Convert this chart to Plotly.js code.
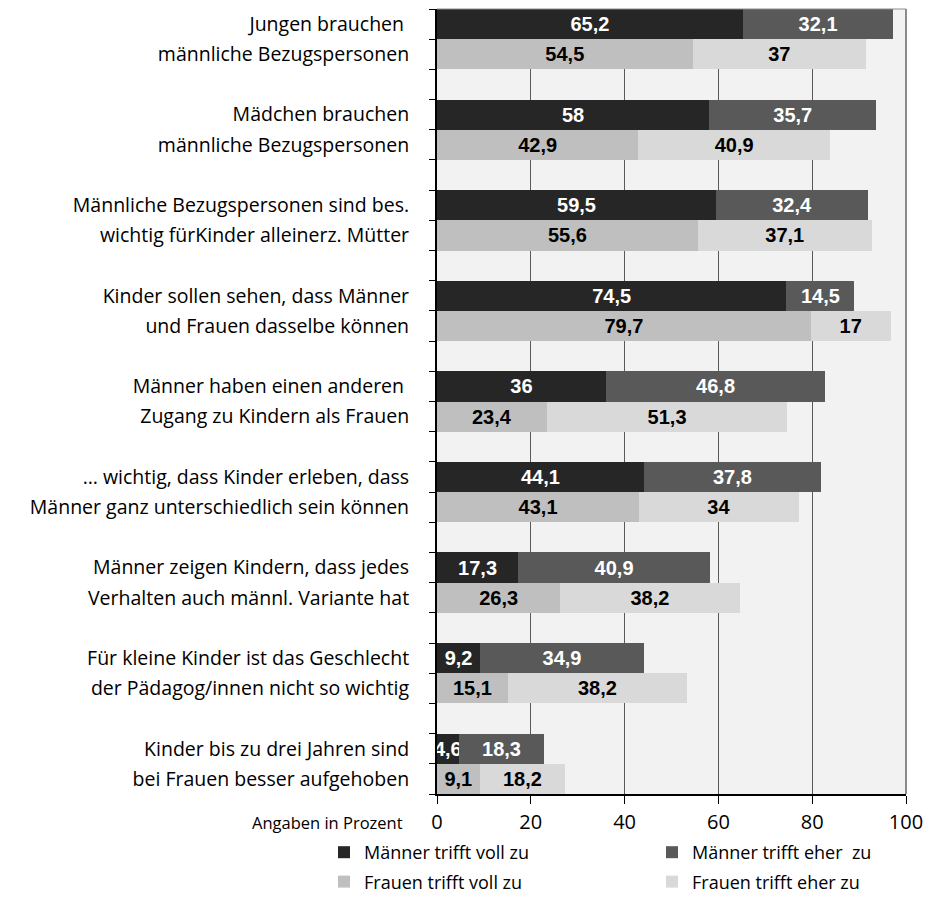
<!DOCTYPE html>
<html>
<head>
<meta charset="utf-8">
<script src="https://cdn.plot.ly/plotly-3.0.1.min.js"></script>
<style>html,body{margin:0;padding:0;background:#fff;}#chart{width:928px;height:910px;}</style>
</head>
<body>
<div id="chart"></div>
<script>
const labelLine1 = [
  "Jungen brauchen ",
  "Mädchen brauchen",
  "Männliche Bezugspersonen sind bes.",
  "Kinder sollen sehen, dass Männer",
  "Männer haben einen anderen ",
  "… wichtig, dass Kinder erleben, dass",
  "Männer zeigen Kindern, dass jedes",
  "Für kleine Kinder ist das Geschlecht",
  "Kinder bis zu drei Jahren sind"
];
const labelLine2 = [
  "männliche Bezugspersonen",
  "männliche Bezugspersonen",
  "wichtig fürKinder alleinerz. Mütter",
  "und Frauen dasselbe können",
  "Zugang zu Kindern als Frauen",
  "Männer ganz unterschiedlich sein können",
  "Verhalten auch männl. Variante hat",
  "der Pädagog/innen nicht so wichtig",
  "bei Frauen besser aufgehoben"
];
const maennerVoll = [65.2, 58, 59.5, 74.5, 36, 44.1, 17.3, 9.2, 4.6];
const maennerEher = [32.1, 35.7, 32.4, 14.5, 46.8, 37.8, 40.9, 34.9, 18.3];
const frauenVoll  = [54.5, 42.9, 55.6, 79.7, 23.4, 43.1, 26.3, 15.1, 9.1];
const frauenEher  = [37, 40.9, 37.1, 17, 51.3, 34, 38.2, 38.2, 18.2];
const seriesNames = ["Männer trifft voll zu", "Männer trifft eher  zu", "Frauen trifft voll zu", "Frauen trifft eher zu"];
const xTicks = [0, 20, 40, 60, 80, 100];
const axisNote = "Angaben in Prozent";

const n = labelLine1.length;
const slots = n * 3 - 1;
const yM = labelLine1.map((_, i) => slots - 3 * i - 0.5);
const yF = labelLine1.map((_, i) => slots - 3 * i - 1.5);
const fmt = v => String(v).replace('.', ',');

const FONT = "Open Sans, Liberation Sans, Arial, sans-serif";
const FONTB = "Liberation Sans, Arial, sans-serif";
function mk(vals, ys, name, color, textColor, legend, group) {
  return {
    type: 'bar', orientation: 'h', x: vals, y: ys, name: name,
    width: 1, marker: {color: color, line: {width: 0}},
    text: vals.map(fmt), textposition: 'inside', insidetextanchor: 'middle',
    constraintext: 'none', textangle: 0, cliponaxis: true,
    textfont: {family: FONTB, size: 20, color: textColor, weight: 'bold'},
    hoverinfo: 'skip', legend: legend, legendgroup: group
  };
}
const traces = [
  mk(maennerVoll, yM, seriesNames[0], '#262626', '#ffffff', 'legend', 'a'),
  mk(maennerEher, yM, seriesNames[1], '#595959', '#ffffff', 'legend2', 'b'),
  mk(frauenVoll, yF, seriesNames[2], '#bfbfbf', '#000000', 'legend', 'c'),
  mk(frauenEher, yF, seriesNames[3], '#d9d9d9', '#000000', 'legend2', 'd')
];

const tickvals = [], ticktext = [];
for (let i = 0; i < n; i++) {
  tickvals.push(yM[i]); ticktext.push(labelLine1[i]);
  tickvals.push(yF[i]); ticktext.push(labelLine2[i]);
}

const legendCommon = {
  orientation: 'v', traceorder: 'grouped', tracegroupgap: 3,
  font: {family: FONT, size: 18, color: '#000'},
  bgcolor: 'rgba(0,0,0,0)', xanchor: 'left', yanchor: 'top',
  xref: 'container', yref: 'container',
  itemwidth: 30, itemclick: false, itemdoubleclick: false
};

const layout = {
  width: 928, height: 910,
  margin: {l: 437, r: 22, t: 9, b: 116, autoexpand: false},
  paper_bgcolor: '#ffffff', plot_bgcolor: '#f2f2f2',
  barmode: 'stack', bargap: 0,
  showlegend: true,
  legend: Object.assign({}, legendCommon, {x: 324 / 928, y: 1 - 834 / 910}),
  legend2: Object.assign({}, legendCommon, {x: 652 / 928, y: 1 - 834 / 910}),
  xaxis: {
    range: [0, 100], tickvals: xTicks, ticktext: xTicks.map(String),
    showgrid: true, gridcolor: '#595959', gridwidth: 1,
    zeroline: false, showline: true, linecolor: '#000000', linewidth: 2,
    ticks: 'outside', ticklen: 8, tickcolor: '#000', tickwidth: 1,
    ticklabelstandoff: 1,
    tickfont: {family: FONT, size: 20, color: '#000'},
    fixedrange: true, automargin: false
  },
  yaxis: {
    range: [0, slots], tickmode: 'array', tickvals: tickvals, ticktext: ticktext,
    ticks: '', showgrid: false, zeroline: false,
    showline: true, linecolor: '#000000', linewidth: 2,
    ticklabelstandoff: 22,
    tickfont: {family: FONT, size: 19.5, color: '#000'},
    minor: {ticks: 'outside', tickmode: 'linear', tick0: 0, dtick: 1, ticklen: 6, tickcolor: '#000', tickwidth: 1, showgrid: false},
    fixedrange: true, automargin: false
  },
  shapes: [
    {type: 'line', xref: 'paper', yref: 'paper', x0: 1, x1: 1, y0: 0, y1: 1, line: {color: '#8c8c8c', width: 2}, layer: 'above'},
    {type: 'line', xref: 'paper', yref: 'paper', x0: 0, x1: 1, y0: 1, y1: 1, line: {color: '#8c8c8c', width: 1}, layer: 'above'}
  ],
  annotations: [
    {text: axisNote, xref: 'paper', yref: 'paper', x: (405 - 437) / 469, y: (794 - 822) / 785, xanchor: 'right', yanchor: 'middle',
     showarrow: false, font: {family: FONT, size: 16.5, color: '#000'}}
  ]
};

Plotly.newPlot('chart', traces, layout, {displayModeBar: false, staticPlot: true});
</script>
</body>
</html>
